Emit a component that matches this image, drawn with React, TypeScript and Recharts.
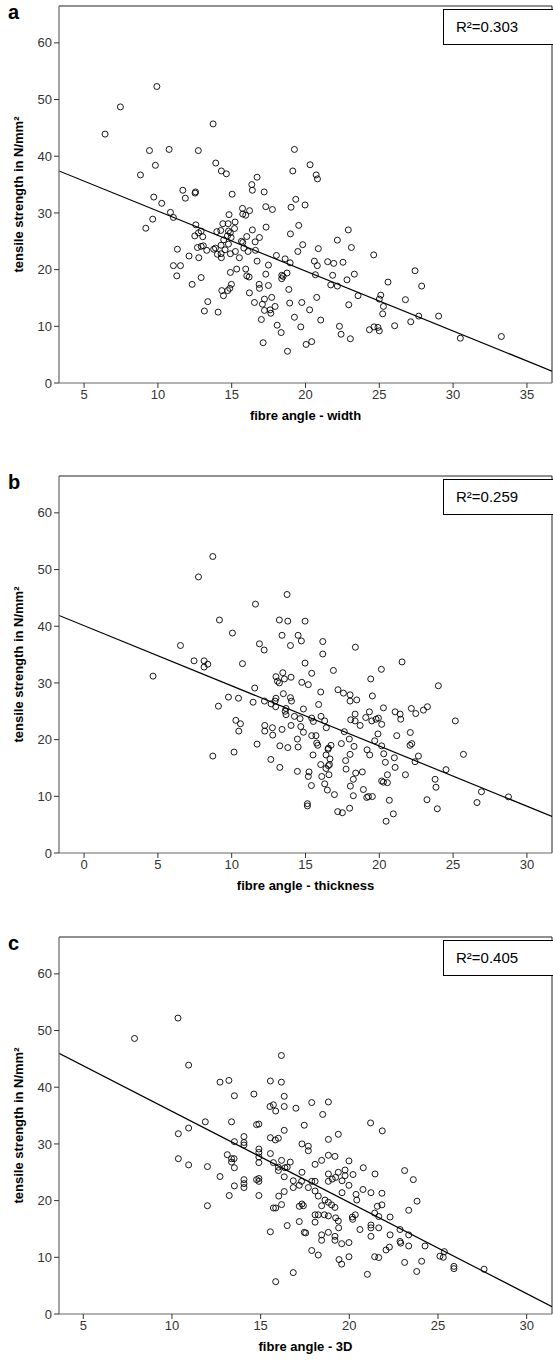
import React from 'react';
import { ScatterChart, Scatter, XAxis, YAxis, ReferenceLine } from 'recharts';

type P = [number, number];

// ---- Panel a: fibre angle - width ----
const widthPoints: P[] = [
  [9.93,52.3],[7.46,48.7],[6.42,43.9],[13.74,45.7],[9.43,41.0],[10.76,41.2],[12.74,41.0],[19.25,41.2],[9.83,38.4],[13.92,38.8],[14.3,37.4],[14.64,36.9],[8.82,36.7],[19.14,37.4],[16.36,35.0],[16.72,36.3],[16.4,34.0],[17.2,33.7],[15.03,33.3],[11.69,34.0],[12.52,33.5],[12.55,33.7],[9.72,32.8],[11.86,32.6],[19.34,32.4],[20.31,38.5],[20.72,36.7],[20.81,36.0],
  [10.26,31.7],[10.85,30.1],[11.05,29.2],[9.65,28.9],[9.18,27.3],[19.02,31.0],[19.97,31.4],[17.31,31.1],[17.76,30.6],[15.73,30.8],[16.21,30.4],[15.75,29.8],[15.95,29.6],[14.82,29.7],[12.57,27.9],[14.4,28.1],[14.76,28.1],[15.23,28.4],[17.33,27.5],[19.54,27.8],[18.98,26.3],
  [14.26,26.9],[13.99,26.7],[14.78,26.8],[14.91,26.5],[15.19,27.25],[14.71,25.95],[14.96,25.66],[14.46,25.25],[12.75,26.5],[12.93,26.8],[12.5,25.95],[13.04,25.8],[16.4,27.0],[16.02,25.84],[15.75,24.8],[15.66,25.0],[16.88,25.66],[16.59,24.9],[14.28,24.3],[14.78,24.5],[14.55,23.5],[14.28,22.8],[14.03,22.7],[14.3,22.1],[14.91,22.8],[15.25,23.2],[15.52,22.1],[15.82,23.8],[16.11,23.2],[16.61,23.4],[13.78,23.6],[13.9,23.8],[13.31,23.4],[12.93,24.1],[13.08,24.2],[12.68,23.9],[12.77,22.1],[12.11,22.4],[11.32,23.6],[11.05,20.7],[11.53,20.7],[11.28,18.9],[12.32,17.4],[12.93,18.6],[14.91,19.5],[15.34,20.1],[15.95,20.1],[16.02,18.9],[16.18,18.7],[14.98,17.4],[14.87,16.7],[14.73,16.3],[14.33,16.3],[14.44,15.4],[13.38,14.35],[13.15,12.7],[14.08,12.5],[16.2,15.9],[16.72,21.5],[17.49,20.8],[18.03,22.5],[18.62,21.9],[18.96,21.2],[17.31,19.2],[17.49,17.2],[16.86,17.4],[16.88,16.7],[16.54,14.2],[17.08,13.9],[17.22,14.8],[17.71,15.1],[17.22,12.8],[17.6,12.9],[17.65,12.3],[17.94,13.5],[17.01,11.2],[18.08,10.2],[18.35,8.9],[17.13,7.1],[18.78,5.6],[18.39,19.0],[18.48,18.8],[18.39,18.4],[18.75,19.4],[18.87,16.5],[18.93,14.1],[19.25,11.6],[19.68,9.9],[19.75,14.2],[19.48,23.2],[19.81,24.4],[20.04,6.8],
  [22.16,25.2],[22.9,27.0],[23.11,23.9],[20.87,23.7],[20.6,21.5],[20.8,20.7],[21.5,21.4],[21.91,21.1],[22.54,21.3],[24.62,22.6],[20.67,19.1],[21.84,19.0],[21.71,17.3],[22.16,17.1],[22.81,18.2],[23.31,19.2],[23.56,15.4],[22.93,13.8],[20.76,15.1],[20.28,12.9],[21.03,11.1],[20.42,7.3],[22.3,10.0],[22.41,8.6],[23.04,7.8],[25.1,15.5],[25.0,14.8],[25.28,13.5],[25.23,12.2],[25.59,17.8],[26.77,14.7],[27.42,19.8],[27.87,17.1],[27.67,11.8],[27.13,10.8],[26.04,10.1],[24.33,9.4],[24.64,9.9],[24.91,9.8],[25.0,9.2],[29.02,11.8],[30.49,7.9],[33.27,8.2],
];
const widthFit = [{ x: 3.3, y: 37.4 }, { x: 36.7, y: 2.1 }];
const widthDomain: [number, number] = [3.3, 36.7];
const widthTicks = [5, 10, 15, 20, 25, 30, 35];

// ---- Panel b: fibre angle - thickness ----
const thicknessPoints: P[] = [
  [8.72,52.3],[7.75,48.7],[13.75,45.6],[11.61,43.9],[9.17,41.1],[13.23,41.1],[13.8,40.9],[14.97,40.9],[10.05,38.8],[13.41,38.4],[14.5,38.4],[14.72,37.4],[13.98,36.6],[11.88,36.9],[12.2,35.8],[6.53,36.6],[16.17,37.3],[18.38,36.3],[16.17,35.1],
  [7.45,33.9],[8.13,33.9],[8.13,32.8],[8.38,33.3],[4.67,31.2],[10.73,33.4],[14.97,33.5],[13.0,31.1],[13.46,31.8],[13.57,30.7],[14.02,31.0],[13.1,30.3],[13.23,30.0],[14.75,30.1],[11.56,29.1],[9.78,27.5],[10.46,27.3],[9.1,25.9],[11.45,26.6],[12.22,26.8],[12.67,26.3],[13.0,27.3],[12.94,26.8],[13.5,28.1],[13.98,27.4],[14.05,26.8],[12.98,25.8],[13.68,25.5],[13.62,25.0],[13.68,24.4],[14.25,24.1],[14.63,23.7],[14.86,25.4],[14.86,21.3],[14.68,22.3],[14.02,22.5],[13.41,21.8],[12.76,22.1],[12.78,20.8],[12.24,22.5],[12.24,21.5],[10.28,23.4],[10.59,22.8],[10.48,21.5],[11.72,19.2],[13.26,18.9],[13.8,18.6],[14.5,18.7],[14.45,20.1],[10.16,17.8],[8.72,17.1],[12.65,16.5],[13.26,15.1],[14.45,14.4],
  [15.42,31.7],[16.89,32.2],[15.19,29.7],[16.03,28.4],[17.2,28.8],[17.57,28.2],[18.02,27.9],[18.47,27.0],[18.02,26.8],[19.42,30.7],[20.14,32.4],[21.54,33.7],[19.53,27.7],[24.0,29.5],[15.89,26.2],[15.42,23.8],[16.05,24.1],[15.53,23.2],[16.3,23.3],[16.41,22.1],[15.42,20.7],[15.71,20.7],[15.76,19.4],[15.83,19.0],[16.55,18.5],[16.73,19.0],[16.53,18.3],[16.39,17.3],[16.66,16.6],[15.51,17.3],[16.03,15.6],[16.55,15.4],[16.62,15.6],[16.39,14.9],[15.24,14.3],[15.19,13.5],[16.1,13.5],[16.59,13.8],[15.4,11.9],[16.3,12.2],[16.48,11.1],[16.96,10.3],[15.13,8.7],[15.13,8.3],[17.18,7.3],[17.5,7.1],[17.99,7.9],[18.24,10.1],[18.92,11.2],[19.15,9.8],[19.26,9.96],[19.53,9.96],[18.04,11.8],[18.24,13.0],[18.4,14.1],[18.85,14.3],[17.72,16.3],[17.75,14.8],[18.02,17.4],[18.29,18.8],[17.97,20.1],[17.43,19.3],[17.63,21.4],[18.36,24.5],[18.06,23.5],[18.36,23.3],[18.7,22.5],[19.08,23.9],[19.33,24.9],[19.49,23.3],[19.78,23.6],[19.94,23.8],[20.16,22.7],[20.28,25.6],[19.91,21.0],[19.69,19.8],[20.16,18.9],[19.17,18.2],[19.35,17.3],[20.3,17.5],[20.41,16.0],[21.02,16.8],[21.07,15.1],[20.55,13.8],[20.16,12.7],[20.28,12.5],[20.55,12.4],[20.68,9.3],[20.95,6.9],[20.46,5.6],[21.07,24.9],[21.41,24.5],[21.45,23.6],[21.18,20.7],[22.17,25.5],[22.47,24.6],[22.99,25.2],[23.26,25.8],[22.1,21.25],[22.08,19.0],[22.2,19.3],[22.65,17.1],[22.42,16.1],[21.77,13.8],[23.78,13.0],[23.84,11.6],[23.23,9.4],[23.93,7.8],[24.52,14.7],[25.15,23.3],[25.7,17.4],[26.62,8.9],[26.92,10.8],[28.75,9.9],
];
const thicknessFit = [{ x: -1.7, y: 41.9 }, { x: 31.7, y: 6.45 }];
const thicknessDomain: [number, number] = [-1.7, 31.7];
const thicknessTicks = [0, 5, 10, 15, 20, 25, 30];

// ---- Panel c: fibre angle - 3D ----
const points3D: P[] = [
  [10.34,52.2],[7.89,48.6],[10.94,43.9],[16.17,45.6],[12.71,40.9],[13.21,41.2],[15.55,41.1],[16.17,40.9],[13.52,38.5],[14.62,38.8],[16.33,38.4],[15.53,36.6],[15.72,36.9],[15.85,35.8],[16.33,36.6],[16.99,36.3],[17.88,37.3],[18.82,37.4],[18.5,35.2],
  [11.88,33.9],[13.36,33.9],[10.36,31.8],[10.94,32.8],[14.77,33.4],[14.9,33.5],[15.55,31.1],[15.83,30.7],[16.0,31.0],[16.33,32.4],[17.46,33.3],[17.33,30.0],[13.52,30.4],[14.06,31.3],[14.06,30.25],[14.06,29.8],[14.9,29.1],[14.9,28.5],[14.9,27.7],[14.9,26.7],[15.55,28.3],[13.12,28.1],[13.36,27.4],[13.5,27.4],[13.36,26.8],[13.52,25.8],[10.36,27.4],[10.94,26.3],[12.0,26.0],[12.71,24.25],[14.06,23.7],[14.06,23.0],[14.06,22.3],[13.52,22.6],[13.23,20.9],[14.77,23.7],[14.9,23.4],[14.9,23.9],[14.9,20.9],[12.0,19.1],[15.72,26.7],[16.18,27.1],[16.67,26.8],[16.0,25.9],[16.0,25.3],[16.37,25.8],[16.5,25.9],[16.33,24.2],[16.84,23.5],[17.31,23.4],[17.18,22.7],[16.84,22.3],[17.33,25.0],[16.33,21.6],[16.02,20.8],[16.18,19.3],[15.72,18.7],[15.85,18.7],[17.18,19.0],[17.33,19.4],[17.41,19.1],[17.18,16.3],[16.5,15.6],[15.55,14.5],[17.46,14.4],[16.84,7.3],[15.85,5.7],
  [19.38,31.7],[18.82,30.8],[21.2,33.7],[21.86,32.3],[17.69,29.6],[17.69,28.8],[18.44,27.1],[18.07,26.4],[18.82,28.0],[19.19,27.8],[19.98,27.0],[20.79,25.8],[21.45,24.7],[23.12,25.3],[23.61,23.7],[18.82,24.7],[18.82,23.4],[19.04,23.8],[19.23,24.1],[19.38,25.0],[19.76,25.4],[19.76,24.4],[19.59,23.5],[19.98,22.7],[20.21,24.6],
  [17.88,23.4],[18.07,23.4],[17.69,22.3],[18.07,21.7],[18.25,20.8],[18.63,20.1],[19.0,19.25],[18.82,19.7],[19.59,21.4],[20.77,21.96],[21.22,21.4],[20.38,21.1],[20.42,20.1],[21.84,21.3],[21.84,19.25],[21.58,19.0],[21.66,17.2],[22.3,17.1],[21.43,17.8],[20.34,17.5],[20.17,17.1],[20.19,16.7],[20.6,14.9],[21.22,15.7],[21.22,15.2],[21.22,13.7],[21.66,15.2],[22.3,13.96],[22.86,14.9],[22.86,12.8],[22.9,12.5],[23.35,13.96],[23.35,12.0],[22.26,11.8],[22.07,11.3],[21.66,9.96],[21.43,10.1],[21.02,7.0],[19.98,10.1],[19.57,8.8],[19.42,9.6],[19.57,12.4],[19.98,12.6],[19.19,13.0],[19.19,13.7],[18.82,14.4],[18.44,13.96],[18.44,13.0],[17.88,11.2],[18.25,10.4],[17.54,14.3],[18.07,16.2],[18.07,17.5],[18.25,17.5],[18.44,19.1],[18.59,17.5],[18.82,17.3],[19.23,16.96],[19.38,16.4],[19.4,15.2],[19.19,18.8],[24.27,12.0],[25.11,10.2],[25.3,10.0],[25.36,11.0],[25.9,8.4],[25.9,8.0],[27.6,7.9],[23.12,9.1],[23.8,7.5],[24.08,9.3],[23.82,19.9],[23.35,18.3],
];
const fit3D = [{ x: 3.63, y: 46.0 }, { x: 31.43, y: 1.3 }];
const domain3D: [number, number] = [3.63, 31.43];
const ticks3D = [5, 10, 15, 20, 25, 30];

const yTicks = [0, 10, 20, 30, 40, 50, 60];
const yMax = 66.5;

const FONT = '"Liberation Sans", Arial, sans-serif';

const OpenCircle = (props: any) => {
  const { cx, cy } = props;
  if (cx == null || cy == null) return null;
  return <circle cx={cx} cy={cy} r={3} fill="none" stroke="#000" strokeWidth={0.9} />;
};

type PanelProps = {
  top: number;
  letter: string;
  points: P[];
  fit: { x: number; y: number }[];
  domain: [number, number];
  ticks: number[];
  xLabel: string;
  r2: string;
};

function Panel({ top, letter, points, fit, domain, ticks, xLabel, r2 }: PanelProps) {
  const data = points.map(([x, y]) => ({ x, y }));
  return (
    <div style={{ position: 'absolute', top, left: 0, width: 553, height: 460 }}>
      <ScatterChart width={553} height={460} margin={{ top: 6, right: 1, bottom: 0, left: 0 }}>
        <XAxis
          type="number"
          dataKey="x"
          domain={domain}
          ticks={ticks}
          allowDataOverflow
          height={77}
          tickSize={5}
          axisLine={{ stroke: '#666', strokeWidth: 1.2 }}
          tickLine={{ stroke: '#333' }}
          tick={{ fill: '#333', fontSize: 13, fontFamily: FONT }}
          label={{
            value: xLabel,
            position: 'insideBottom',
            offset: 40,
            style: { fontWeight: 'bold', fontSize: 13, fontFamily: FONT, fill: '#000' },
          }}
        />
        <YAxis
          type="number"
          dataKey="y"
          domain={[0, yMax]}
          ticks={yTicks}
          allowDataOverflow
          width={59}
          tickSize={5}
          axisLine={{ stroke: '#666', strokeWidth: 1.2 }}
          tickLine={{ stroke: '#333' }}
          tick={{ fill: '#333', fontSize: 13, fontFamily: FONT }}
          label={{
            value: 'tensile strength in N/mm²',
            angle: -90,
            position: 'insideLeft',
            offset: 18,
            style: { textAnchor: 'middle', fontWeight: 'bold', fontSize: 13, fontFamily: FONT, fill: '#000' },
          }}
        />
        <ReferenceLine y={yMax} stroke="#222" strokeWidth={1} ifOverflow="visible" />
        <ReferenceLine x={domain[1]} stroke="#222" strokeWidth={1} ifOverflow="visible" />
        <ReferenceLine segment={fit} stroke="#000" strokeWidth={1.2} ifOverflow="hidden" />
        <Scatter data={data} shape={OpenCircle} isAnimationActive={false} />
      </ScatterChart>
      <div
        style={{
          position: 'absolute',
          left: 8,
          top: 0,
          fontFamily: FONT,
          fontWeight: 'bold',
          fontSize: 20,
          lineHeight: '24px',
          color: '#000',
        }}
      >
        {letter}
      </div>
      <div
        style={{
          position: 'absolute',
          left: 443,
          top: 9,
          width: 102,
          height: 34,
          border: '1px solid #000',
          background: '#fff',
          fontFamily: FONT,
          fontSize: 15,
          lineHeight: '34px',
          paddingLeft: 12,
          boxSizing: 'content-box',
          color: '#000',
        }}
      >
        {r2}
      </div>
    </div>
  );
}

export default function App() {
  return (
    <div style={{ position: 'absolute', top: 0, left: 0, width: 553, height: 1368, background: '#fff' }}>
      <Panel top={0} letter="a" points={widthPoints} fit={widthFit} domain={widthDomain} ticks={widthTicks} xLabel="fibre angle - width" r2="R²=0.303" />
      <Panel top={470} letter="b" points={thicknessPoints} fit={thicknessFit} domain={thicknessDomain} ticks={thicknessTicks} xLabel="fibre angle - thickness" r2="R²=0.259" />
      <Panel top={931} letter="c" points={points3D} fit={fit3D} domain={domain3D} ticks={ticks3D} xLabel="fibre angle - 3D" r2="R²=0.405" />
    </div>
  );
}
